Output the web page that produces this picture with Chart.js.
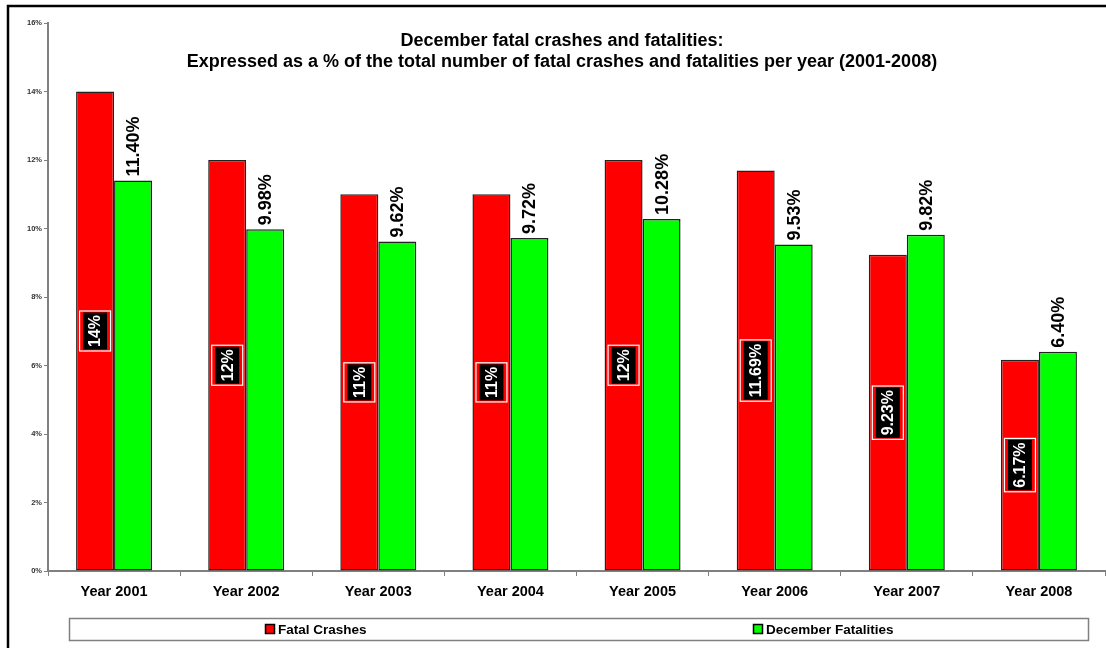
<!DOCTYPE html>
<html>
<head>
<meta charset="utf-8">
<script src="https://cdn.jsdelivr.net/npm/chart.js@4"></script>
<style>
html,body{margin:0;padding:0;background:#fff;}
#wrap{width:1106px;height:648px;}
</style>
</head>
<body>
<div id="wrap"><canvas id="c" width="1106" height="648"></canvas></div>
<script>
const categories = ['Year 2001','Year 2002','Year 2003','Year 2004','Year 2005','Year 2006','Year 2007','Year 2008'];
const fatalCrashes = [14, 12, 11, 11, 12, 11.69, 9.23, 6.17];
const decemberFatalities = [11.40, 9.98, 9.62, 9.72, 10.28, 9.53, 9.82, 6.40];
const seriesNames = ['Fatal Crashes', 'December Fatalities'];
const titleLines = ['December fatal crashes and fatalities:', 'Expressed as a % of the total number of fatal crashes and fatalities per year (2001-2008)'];
const yTicks = [0, 2, 4, 6, 8, 10, 12, 14, 16];

const FONT = '"Liberation Sans", Arial, sans-serif';

function fmtRed(v){ return (Number.isInteger(v) ? String(v) : v.toFixed(2)) + '%'; }
function fmtGreen(v){ return v.toFixed(2) + '%'; }

const framePlugin = {
  id: 'frame',
  beforeDraw(chart){
    const ctx = chart.ctx;
    ctx.save();
    ctx.fillStyle = '#fff';
    ctx.fillRect(0,0,chart.width,chart.height);
    ctx.strokeStyle = '#000';
    ctx.lineWidth = 2.5;
    ctx.beginPath();
    ctx.moveTo(8, chart.height + 5);
    ctx.lineTo(8, 6);
    ctx.lineTo(chart.width + 5, 6);
    ctx.stroke();
    ctx.restore();
  },
  afterDraw(chart){
    const ctx = chart.ctx;
    ctx.save();
    // Title
    ctx.fillStyle = '#000';
    ctx.font = 'bold 18px ' + FONT;
    ctx.textAlign = 'center';
    ctx.textBaseline = 'middle';
    ctx.fillText(titleLines[0], 562, 41);
    ctx.fillText(titleLines[1], 562, 62);
    // Legend box
    ctx.strokeStyle = '#808080';
    ctx.lineWidth = 1.5;
    ctx.strokeRect(69.5, 618.5, 1019, 22);
    const itemX = [265, 753];
    ctx.font = 'bold 13.5px ' + FONT;
    ctx.textAlign = 'left';
    ctx.textBaseline = 'middle';
    chart.data.datasets.forEach((ds, i) => {
      const x = itemX[i];
      ctx.fillStyle = ds.backgroundColor;
      ctx.fillRect(x, 624, 9, 9);
      ctx.strokeStyle = '#000';
      ctx.lineWidth = 1.5;
      ctx.strokeRect(x + 0.5, 624.5, 9, 9);
      ctx.fillStyle = '#000';
      ctx.fillText(ds.label, x + 13, 630);
    });
    ctx.restore();
  },
  afterDatasetsDraw(chart){
    const ctx = chart.ctx;
    // Red labels inside bars
    const m0 = chart.getDatasetMeta(0);
    m0.data.forEach((el, i) => {
      const v = chart.data.datasets[0].data[i];
      const t = fmtRed(v);
      const yMid = (el.y + el.base) / 2;
      ctx.save();
      ctx.translate(el.x, yMid);
      ctx.rotate(-Math.PI/2);
      ctx.font = 'bold 16px ' + FONT;
      const w = ctx.measureText(t).width;
      ctx.fillStyle = '#000';
      ctx.fillRect(-w/2 - 2.5, -12, w + 5, 24);
      ctx.strokeStyle = '#fff';
      ctx.lineWidth = 1.2;
      ctx.strokeRect(-w/2 - 4, -15.5, w + 8, 31);
      ctx.fillStyle = '#fff';
      ctx.textAlign = 'center';
      ctx.textBaseline = 'middle';
      ctx.fillText(t, 0, 1);
      ctx.restore();
    });
    // Green labels above bars
    const m1 = chart.getDatasetMeta(1);
    m1.data.forEach((el, i) => {
      const v = chart.data.datasets[1].data[i];
      const t = fmtGreen(v);
      ctx.save();
      ctx.translate(el.x, el.y - 4);
      ctx.rotate(-Math.PI/2);
      ctx.font = 'bold 18px ' + FONT;
      ctx.fillStyle = '#000';
      ctx.textAlign = 'left';
      ctx.textBaseline = 'middle';
      ctx.fillText(t, 0, 1);
      ctx.restore();
    });
  }
};

new Chart(document.getElementById('c'), {
  type: 'bar',
  data: {
    labels: categories,
    datasets: [
      { label: seriesNames[0], data: fatalCrashes, backgroundColor: '#FF0000', borderColor: '#222', borderWidth: 1.5, borderSkipped: false },
      { label: seriesNames[1], data: decemberFatalities, backgroundColor: '#00FF00', borderColor: '#222', borderWidth: 1.5, borderSkipped: false }
    ]
  },
  options: {
    responsive: false,
    animation: false,
    devicePixelRatio: 1,
    layout: { padding: { top: 23, right: 1, bottom: 0, left: 0 } },
    datasets: { bar: { categoryPercentage: 0.575, barPercentage: 1 } },
    plugins: { legend: { display: false }, title: { display: false }, tooltip: { enabled: false } },
    scales: {
      x: {
        afterFit(s){ s.height = 77; },
        grid: { drawOnChartArea: false, drawTicks: true, tickLength: 5, color: '#808080', offset: true },
        border: { color: '#808080', width: 2 },
        ticks: { color: '#000', font: { family: FONT, size: 14.5, weight: 'bold' }, padding: 7, maxRotation: 0 }
      },
      y: {
        min: 0, max: 16,
        afterFit(s){ s.width = 48; },
        afterBuildTicks(s){ s.ticks = yTicks.map(v => ({ value: v })); },
        grid: { drawOnChartArea: false, drawTicks: true, tickLength: 4, color: '#808080' },
        border: { color: '#808080', width: 2 },
        ticks: { color: '#333', font: { family: FONT, size: 7.5, weight: 'bold' }, padding: 2, callback: v => v + '%' }
      }
    }
  },
  plugins: [framePlugin]
});
</script>
</body>
</html>
